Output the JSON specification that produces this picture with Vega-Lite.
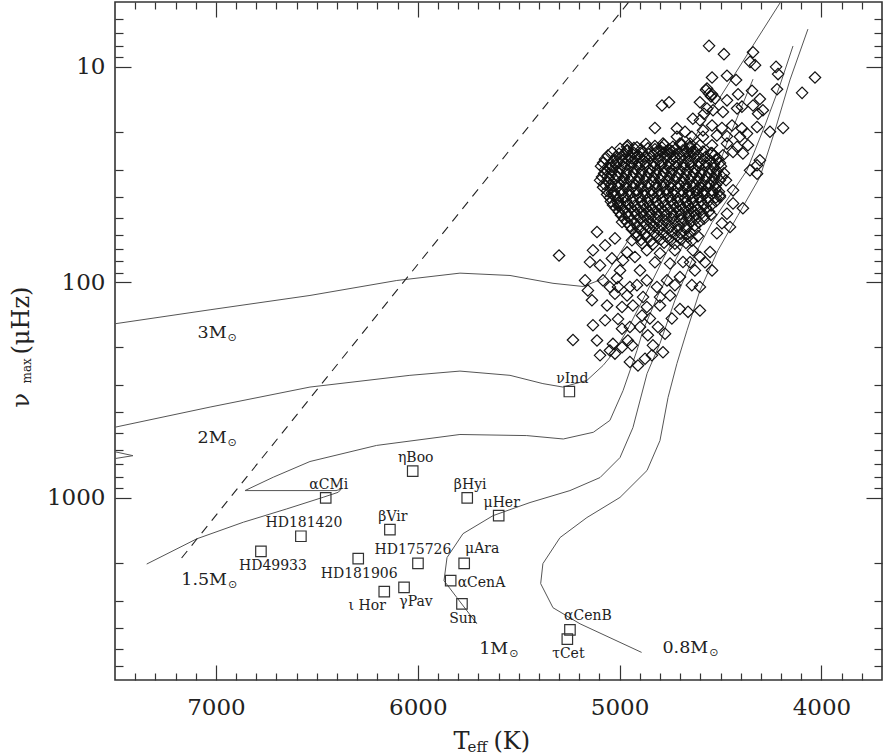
{
  "$schema": "https://vega.github.io/schema/vega-lite/v6.json",
  "width": 767,
  "height": 678,
  "autosize": {"type": "none"},
  "padding": {"left": 115, "top": 2, "right": 2, "bottom": 74},
  "background": "white",
  "config": {
    "view": {"stroke": "#333", "strokeWidth": 1.6},
    "font": "DejaVu Serif",
    "axis": {"grid": false, "domain": false, "tickColor": "#333", "tickWidth": 1.2, "labelFont": "DejaVu Serif", "labelColor": "#222", "titleFont": "DejaVu Serif", "titleColor": "#222", "titleFontWeight": "normal"}
  },
  "datasets": {
    "tracks": [
      {"track":"3M","teff":7599,"numax":162},{"track":"3M","teff":7500,"numax":155.6},{"track":"3M","teff":7029,"numax":134},{"track":"3M","teff":6534,"numax":115},{"track":"3M","teff":6104,"numax":98},{"track":"3M","teff":5791,"numax":90.6},{"track":"3M","teff":5543,"numax":92.9},{"track":"3M","teff":5330,"numax":101},{"track":"3M","teff":5181,"numax":104.5},{"track":"3M","teff":5082,"numax":96.2},{"track":"3M","teff":4973,"numax":67.3},{"track":"3M","teff":4850,"numax":43.9},{"track":"3M","teff":4701,"numax":27.1},{"track":"3M","teff":4528,"numax":15.1},{"track":"3M","teff":4354,"numax":8.37},{"track":"3M","teff":4181,"numax":4.65},
      {"track":"2Mh","teff":7599,"numax":693},{"track":"2Mh","teff":7500,"numax":657},{"track":"2Mh","teff":7411,"numax":637},{"track":"2Mh","teff":7500,"numax":611},{"track":"2Mh","teff":7599,"numax":585},
      {"track":"2M","teff":7599,"numax":498},{"track":"2M","teff":7500,"numax":470},{"track":"2M","teff":7029,"numax":379},{"track":"2M","teff":6534,"numax":306},{"track":"2M","teff":6039,"numax":270},{"track":"2M","teff":5791,"numax":258},{"track":"2M","teff":5543,"numax":270},{"track":"2M","teff":5380,"numax":295},{"track":"2M","teff":5281,"numax":306},{"track":"2M","teff":5162,"numax":285},{"track":"2M","teff":5082,"numax":243},{"track":"2M","teff":5033,"numax":214},{"track":"2M","teff":4963,"numax":167},{"track":"2M","teff":4874,"numax":115},{"track":"2M","teff":4775,"numax":74.8},{"track":"2M","teff":4651,"numax":46.3},{"track":"2M","teff":4552,"numax":31.8},
      {"track":"1.5M","teff":7343,"numax":2028},{"track":"1.5M","teff":7095,"numax":1549},{"track":"1.5M","teff":6864,"numax":1297},{"track":"1.5M","teff":6649,"numax":1125},{"track":"1.5M","teff":6468,"numax":993},{"track":"1.5M","teff":6394,"numax":942},{"track":"1.5M","teff":6380,"numax":912},{"track":"1.5M","teff":6405,"numax":925},{"track":"1.5M","teff":6856,"numax":925},{"track":"1.5M","teff":6716,"numax":802},{"track":"1.5M","teff":6534,"numax":678},{"track":"1.5M","teff":6204,"numax":571},{"track":"1.5M","teff":5791,"numax":508},{"track":"1.5M","teff":5460,"numax":514},{"track":"1.5M","teff":5279,"numax":533},{"track":"1.5M","teff":5130,"numax":496},{"track":"1.5M","teff":5048,"numax":437},{"track":"1.5M","teff":4983,"numax":318},{"track":"1.5M","teff":4914,"numax":207},{"track":"1.5M","teff":4884,"numax":167},{"track":"1.5M","teff":4810,"numax":115},{"track":"1.5M","teff":4711,"numax":74.8},{"track":"1.5M","teff":4612,"numax":48.9},{"track":"1.5M","teff":4537,"numax":33.6},{"track":"1.5M","teff":4453,"numax":20.7},{"track":"1.5M","teff":4339,"numax":11.4},
      {"track":"1M","teff":5707,"numax":3840},{"track":"1M","teff":5806,"numax":2904},{"track":"1M","teff":5870,"numax":2422},{"track":"1M","teff":5855,"numax":1892},{"track":"1M","teff":5776,"numax":1466},{"track":"1M","teff":5627,"numax":1209},{"track":"1M","teff":5444,"numax":1051},{"track":"1M","teff":5246,"numax":925},{"track":"1M","teff":5097,"numax":805},{"track":"1M","teff":4998,"numax":650},{"track":"1M","teff":4934,"numax":472},{"track":"1M","teff":4864,"numax":265},{"track":"1M","teff":4800,"numax":192},{"track":"1M","teff":4726,"numax":121},{"track":"1M","teff":4642,"numax":79},{"track":"1M","teff":4542,"numax":52.7},{"track":"1M","teff":4453,"numax":39.5},{"track":"1M","teff":4369,"numax":30.2},{"track":"1M","teff":4280,"numax":18.7},{"track":"1M","teff":4206,"numax":12.2},{"track":"1M","teff":4141,"numax":8.0},
      {"track":"0.8M","teff":4891,"numax":5212},{"track":"0.8M","teff":5196,"numax":3840},{"track":"0.8M","teff":5330,"numax":3234},{"track":"0.8M","teff":5391,"numax":2500},{"track":"0.8M","teff":5380,"numax":2019},{"track":"0.8M","teff":5295,"numax":1528},{"track":"0.8M","teff":5162,"numax":1234},{"track":"0.8M","teff":4998,"numax":995},{"track":"0.8M","teff":4864,"numax":746},{"track":"0.8M","teff":4800,"numax":542},{"track":"0.8M","teff":4760,"numax":342},{"track":"0.8M","teff":4716,"numax":238},{"track":"0.8M","teff":4666,"numax":167},{"track":"0.8M","teff":4602,"numax":109},{"track":"0.8M","teff":4513,"numax":71.1},{"track":"0.8M","teff":4414,"numax":48.9},{"track":"0.8M","teff":4305,"numax":32.5},{"track":"0.8M","teff":4230,"numax":19.7},{"track":"0.8M","teff":4156,"numax":11.5},{"track":"0.8M","teff":4067,"numax":6.68}
    ],
    "stars": [
      {"name":"αCMi","teff":6456,"numax":1000,"pos":"above"},
      {"name":"ηBoo","teff":6025,"numax":752,"pos":"above"},
      {"name":"βHyi","teff":5755,"numax":1000,"pos":"above"},
      {"name":"μHer","teff":5599,"numax":1208,"pos":"above"},
      {"name":"HD181420","teff":6579,"numax":1507,"pos":"above"},
      {"name":"βVir","teff":6138,"numax":1403,"pos":"above"},
      {"name":"HD49933","teff":6777,"numax":1770,"pos":"belowright"},
      {"name":"HD181906","teff":6295,"numax":1914,"pos":"below"},
      {"name":"HD175726","teff":5999,"numax":2014,"pos":"aboveleft"},
      {"name":"μAra","teff":5770,"numax":2014,"pos":"aboveright"},
      {"name":"αCenA","teff":5837,"numax":2422,"pos":"right"},
      {"name":"ι Hor","teff":6166,"numax":2722,"pos":"belowleft"},
      {"name":"γPav","teff":6068,"numax":2600,"pos":"belowright"},
      {"name":"Sun","teff":5781,"numax":3104,"pos":"below"},
      {"name":"αCenB","teff":5246,"numax":4100,"pos":"aboveright"},
      {"name":"τCet","teff":5259,"numax":4520,"pos":"below"},
      {"name":"νInd","teff":5249,"numax":321,"pos":"above"}
    ],
    "masses": [
      {"label":"3M","teff":6947,"numax":181.5},
      {"label":"2M","teff":6947,"numax":557},
      {"label":"1.5M","teff":6945,"numax":2529},
      {"label":"1M","teff":5552,"numax":5309},
      {"label":"0.8M","teff":4561,"numax":5273}
    ],
    "giants": [
      {"teff":4557,"numax":7.99},{"teff":4483,"numax":8.73},{"teff":4339,"numax":8.55},{"teff":4354,"numax":9.48},{"teff":4329,"numax":9.82},{"teff":4225,"numax":10.0},{"teff":4215,"numax":10.8},{"teff":4032,"numax":11.2},{"teff":4096,"numax":13.2},{"teff":4220,"numax":12.7},
      {"teff":4542,"numax":11.2},{"teff":4468,"numax":11.0},{"teff":4423,"numax":11.5},{"teff":4413,"numax":13.4},{"teff":4344,"numax":12.9},{"teff":4305,"numax":14.1},{"teff":4567,"numax":12.6},{"teff":4547,"numax":13.7},{"teff":4527,"numax":14.0},{"teff":4557,"numax":13.3},
      {"teff":4468,"numax":14.3},{"teff":4394,"numax":15.3},{"teff":4339,"numax":15.1},{"teff":4290,"numax":15.9},{"teff":4314,"numax":16.5},{"teff":4418,"numax":15.6},{"teff":4602,"numax":14.6},{"teff":4567,"numax":15.6},{"teff":4488,"numax":16.2},{"teff":4790,"numax":15.1},
      {"teff":4755,"numax":14.6},{"teff":4637,"numax":17.4},{"teff":4602,"numax":17.7},{"teff":4582,"numax":16.5},{"teff":4537,"numax":15.9},{"teff":4825,"numax":19.2},{"teff":4716,"numax":19.3},{"teff":4676,"numax":20.0},{"teff":4587,"numax":19.7},{"teff":4542,"numax":18.7},
      {"teff":4493,"numax":19.2},{"teff":4443,"numax":18.7},{"teff":4394,"numax":19.3},{"teff":4369,"numax":20.4},{"teff":4319,"numax":19.0},{"teff":4255,"numax":20.0},{"teff":4190,"numax":19.2},{"teff":4716,"numax":21.1},{"teff":4642,"numax":21.1},{"teff":4587,"numax":21.1},
      {"teff":4518,"numax":20.8},{"teff":4468,"numax":21.0},{"teff":4404,"numax":21.1},{"teff":4785,"numax":22.7},{"teff":4701,"numax":22.7},{"teff":4651,"numax":22.7},{"teff":4602,"numax":23.1},{"teff":4542,"numax":23.1},{"teff":4468,"numax":22.7},{"teff":4418,"numax":23.5},
      {"teff":4364,"numax":23.1},{"teff":4963,"numax":23.5},{"teff":4988,"numax":27.1},{"teff":4939,"numax":26.6},{"teff":4899,"numax":26.2},{"teff":4800,"numax":24.4},{"teff":4750,"numax":25.2},{"teff":4642,"numax":24.8},{"teff":4542,"numax":25.2},{"teff":4488,"numax":25.7},
      {"teff":4438,"numax":24.8},{"teff":4389,"numax":25.2},{"teff":4305,"numax":27.1},{"teff":4319,"numax":28.6},{"teff":4354,"numax":30.2},{"teff":4319,"numax":31.3},{"teff":5038,"numax":29.1},{"teff":5062,"numax":32.2},{"teff":5008,"numax":32.4},{"teff":5038,"numax":38.5},
      {"teff":4998,"numax":43.0},{"teff":4438,"numax":43.0},{"teff":4389,"numax":45.3},{"teff":4503,"numax":40.2},{"teff":4453,"numax":55.3},{"teff":4468,"numax":48.0},{"teff":4518,"numax":59.2},{"teff":4493,"numax":53.2},{"teff":5112,"numax":58.4},{"teff":5023,"numax":62.5},
      {"teff":5132,"numax":71.0},{"teff":5072,"numax":67.3},{"teff":5300,"numax":75.0},{"teff":5038,"numax":77.4},{"teff":5147,"numax":80.5},{"teff":5097,"numax":83.4},{"teff":5171,"numax":97.9},{"teff":5082,"numax":97.9},{"teff":5157,"numax":109},{"teff":5048,"numax":105},
      {"teff":4983,"numax":79.0},{"teff":4939,"numax":63.8},{"teff":4899,"numax":88.0},{"teff":4998,"numax":88.0},{"teff":4924,"numax":76.2},{"teff":4865,"numax":71.0},{"teff":4800,"numax":73.3},{"teff":4750,"numax":81.8},{"teff":4686,"numax":80.5},{"teff":4637,"numax":71.0},
      {"teff":4602,"numax":76.2},{"teff":4552,"numax":72.3},{"teff":4627,"numax":88.0},{"teff":4701,"numax":94.4},{"teff":4642,"numax":103},{"teff":4602,"numax":105},{"teff":4765,"numax":97.9},{"teff":4815,"numax":105},{"teff":4865,"numax":97.9},{"teff":4949,"numax":105},
      {"teff":5008,"numax":105},{"teff":5023,"numax":113},{"teff":4963,"numax":115},{"teff":4884,"numax":117},{"teff":4800,"numax":117},{"teff":4750,"numax":115},{"teff":5062,"numax":128},{"teff":4988,"numax":130},{"teff":4934,"numax":128},{"teff":4865,"numax":130},
      {"teff":4800,"numax":128},{"teff":4701,"numax":133},{"teff":4661,"numax":137},{"teff":4602,"numax":135},{"teff":5008,"numax":148},{"teff":4949,"numax":161},{"teff":4988,"numax":164},{"teff":4899,"numax":161},{"teff":4860,"numax":176},{"teff":4810,"numax":161},
      {"teff":4775,"numax":173},{"teff":5132,"numax":158},{"teff":5231,"numax":185},{"teff":5112,"numax":186},{"teff":5033,"numax":193},{"teff":5048,"numax":207},{"teff":4988,"numax":200},{"teff":4939,"numax":196},{"teff":4835,"numax":196},{"teff":4785,"numax":211},
      {"teff":4840,"numax":218},{"teff":4949,"numax":234},{"teff":4909,"numax":243},{"teff":5023,"numax":214},{"teff":5008,"numax":44.0},{"teff":4988,"numax":52.5},{"teff":4438,"numax":37.4},{"teff":4473,"numax":33.6},{"teff":4612,"numax":36.7},{"teff":4587,"numax":38.3},
      {"teff":4542,"numax":13.4},{"teff":4572,"numax":12.8},
      {"teff":4963,"numax":72.6},{"teff":4825,"numax":80.7},{"teff":4726,"numax":71.0},{"teff":4651,"numax":80.7},{"teff":4577,"numax":80.7},{"teff":5013,"numax":95.7},{"teff":4914,"numax":103},{"teff":4726,"numax":103},{"teff":4542,"numax":88.0},{"teff":4889,"numax":142.6},
      {"teff":4741,"numax":147},{"teff":5072,"numax":150},{"teff":4850,"numax":147},{"teff":4959,"numax":186},{"teff":5097,"numax":218},{"teff":4874,"numax":226},{"teff":5137,"numax":121},
      {"teff":4959,"numax":23.1},{"teff":4914,"numax":23.6},{"teff":4870,"numax":22.8},{"teff":4825,"numax":23.3},{"teff":4780,"numax":23.0},{"teff":4736,"numax":23.5},{"teff":4691,"numax":22.9},{"teff":4651,"numax":23.4},
      {"teff":5038,"numax":24.9},{"teff":5003,"numax":25.3},{"teff":4963,"numax":24.6},{"teff":4929,"numax":25.1},{"teff":4889,"numax":24.8},{"teff":4855,"numax":25.4},{"teff":4815,"numax":24.7},{"teff":4780,"numax":25.0},{"teff":4741,"numax":24.6},{"teff":4706,"numax":25.3},{"teff":4666,"numax":24.9},{"teff":4632,"numax":25.2},{"teff":4587,"numax":24.7},{"teff":4547,"numax":25.1},
      {"teff":5072,"numax":26.8},{"teff":5033,"numax":27.3},{"teff":4998,"numax":26.5},{"teff":4959,"numax":27.0},{"teff":4924,"numax":26.6},{"teff":4884,"numax":27.2},{"teff":4850,"numax":26.7},{"teff":4810,"numax":27.1},{"teff":4775,"numax":26.5},{"teff":4736,"numax":27.0},{"teff":4701,"numax":26.8},{"teff":4661,"numax":27.3},{"teff":4627,"numax":26.6},{"teff":4587,"numax":26.9},{"teff":4552,"numax":27.2},{"teff":4513,"numax":26.7},
      {"teff":5092,"numax":28.9},{"teff":5053,"numax":29.4},{"teff":5018,"numax":28.6},{"teff":4978,"numax":29.2},{"teff":4944,"numax":28.8},{"teff":4904,"numax":29.3},{"teff":4870,"numax":28.7},{"teff":4830,"numax":29.1},{"teff":4795,"numax":28.6},{"teff":4755,"numax":29.2},{"teff":4721,"numax":28.9},{"teff":4681,"numax":29.4},{"teff":4646,"numax":28.7},{"teff":4607,"numax":29.0},{"teff":4572,"numax":28.8},{"teff":4532,"numax":29.3},{"teff":4498,"numax":28.9},
      {"teff":5077,"numax":31.2},{"teff":5043,"numax":31.7},{"teff":5003,"numax":30.9},{"teff":4968,"numax":31.5},{"teff":4929,"numax":31.0},{"teff":4894,"numax":31.6},{"teff":4855,"numax":31.1},{"teff":4820,"numax":31.4},{"teff":4780,"numax":30.8},{"teff":4746,"numax":31.3},{"teff":4706,"numax":31.2},{"teff":4671,"numax":31.7},{"teff":4632,"numax":31.0},{"teff":4597,"numax":31.4},{"teff":4557,"numax":31.1},{"teff":4523,"numax":31.6},{"teff":4483,"numax":31.2},
      {"teff":5097,"numax":33.6},{"teff":5058,"numax":34.1},{"teff":5023,"numax":33.3},{"teff":4983,"numax":33.9},{"teff":4949,"numax":33.4},{"teff":4909,"numax":34.0},{"teff":4874,"numax":33.5},{"teff":4835,"numax":33.8},{"teff":4800,"numax":33.2},{"teff":4760,"numax":33.7},{"teff":4726,"numax":33.6},{"teff":4686,"numax":34.1},{"teff":4651,"numax":33.4},{"teff":4612,"numax":33.8},{"teff":4577,"numax":33.5},{"teff":4537,"numax":34.0},{"teff":4503,"numax":33.6},
      {"teff":5082,"numax":36.2},{"teff":5043,"numax":36.8},{"teff":5008,"numax":35.9},{"teff":4968,"numax":36.5},{"teff":4934,"numax":36.0},{"teff":4894,"numax":36.6},{"teff":4860,"numax":36.1},{"teff":4820,"numax":36.4},{"teff":4785,"numax":35.8},{"teff":4746,"numax":36.3},{"teff":4711,"numax":36.2},{"teff":4671,"numax":36.7},{"teff":4637,"numax":36.0},{"teff":4597,"numax":36.4},{"teff":4562,"numax":36.1},{"teff":4523,"numax":36.6},
      {"teff":5062,"numax":39.1},{"teff":5028,"numax":39.7},{"teff":4988,"numax":38.8},{"teff":4954,"numax":39.4},{"teff":4914,"numax":38.9},{"teff":4879,"numax":39.5},{"teff":4840,"numax":39.0},{"teff":4805,"numax":39.3},{"teff":4765,"numax":38.7},{"teff":4731,"numax":39.2},{"teff":4691,"numax":39.1},{"teff":4656,"numax":39.6},{"teff":4617,"numax":38.9},{"teff":4582,"numax":39.3},{"teff":4542,"numax":39.0},{"teff":4503,"numax":39.5},
      {"teff":5043,"numax":42.1},{"teff":5008,"numax":42.7},{"teff":4968,"numax":41.8},{"teff":4934,"numax":42.4},{"teff":4894,"numax":41.9},{"teff":4860,"numax":42.5},{"teff":4820,"numax":42.0},{"teff":4785,"numax":42.3},{"teff":4746,"numax":41.7},{"teff":4711,"numax":42.2},{"teff":4671,"numax":42.1},{"teff":4637,"numax":42.6},{"teff":4597,"numax":41.9},{"teff":4562,"numax":42.3},{"teff":4523,"numax":42.0},
      {"teff":5018,"numax":45.3},{"teff":4983,"numax":45.9},{"teff":4944,"numax":45.0},{"teff":4909,"numax":45.6},{"teff":4870,"numax":45.1},{"teff":4835,"numax":45.7},{"teff":4795,"numax":45.2},{"teff":4760,"numax":45.5},{"teff":4721,"numax":44.9},{"teff":4686,"numax":45.4},{"teff":4646,"numax":45.3},{"teff":4612,"numax":45.8},{"teff":4572,"numax":45.1},
      {"teff":4993,"numax":48.8},{"teff":4954,"numax":49.4},{"teff":4919,"numax":48.5},{"teff":4879,"numax":49.1},{"teff":4845,"numax":48.6},{"teff":4805,"numax":49.2},{"teff":4770,"numax":48.7},{"teff":4731,"numax":49.0},{"teff":4696,"numax":48.4},{"teff":4656,"numax":48.9},{"teff":4622,"numax":48.8},{"teff":4582,"numax":49.3},{"teff":4547,"numax":48.6},
      {"teff":4963,"numax":52.6},{"teff":4924,"numax":53.2},{"teff":4884,"numax":52.2},{"teff":4845,"numax":52.9},{"teff":4805,"numax":52.4},{"teff":4765,"numax":53.0},{"teff":4726,"numax":52.5},{"teff":4686,"numax":52.8},{"teff":4646,"numax":52.1},{"teff":4607,"numax":52.7},
      {"teff":4939,"numax":56.7},{"teff":4894,"numax":57.4},{"teff":4850,"numax":56.3},{"teff":4805,"numax":57.0},{"teff":4760,"numax":56.5},{"teff":4716,"numax":57.2},{"teff":4671,"numax":56.6},{"teff":4627,"numax":56.9},
      {"teff":4914,"numax":61.1},{"teff":4865,"numax":61.8},{"teff":4815,"numax":60.7},{"teff":4765,"numax":61.5},{"teff":4716,"numax":60.9},{"teff":4661,"numax":61.6},{"teff":4612,"numax":61.0},
      {"teff":4889,"numax":65.9},{"teff":4835,"numax":66.6},{"teff":4780,"numax":65.4},{"teff":4726,"numax":66.2},{"teff":4671,"numax":65.7},
      {"teff":4998,"numax":24.0},{"teff":4963,"numax":24.3},{"teff":4929,"numax":23.8},{"teff":4894,"numax":24.2},{"teff":4860,"numax":23.9},{"teff":4825,"numax":24.1},{"teff":4790,"numax":23.7},{"teff":4755,"numax":24.2},{"teff":4721,"numax":24.0},{"teff":4686,"numax":24.4},{"teff":4651,"numax":23.8},{"teff":4617,"numax":24.1},
      {"teff":5058,"numax":25.8},{"teff":5018,"numax":26.2},{"teff":4983,"numax":25.6},{"teff":4949,"numax":26.0},{"teff":4909,"numax":25.7},{"teff":4874,"numax":26.1},{"teff":4835,"numax":25.5},{"teff":4800,"numax":25.9},{"teff":4760,"numax":25.8},{"teff":4726,"numax":26.2},{"teff":4686,"numax":25.6},{"teff":4651,"numax":26.0},{"teff":4612,"numax":25.7},{"teff":4572,"numax":26.1},{"teff":4532,"numax":25.8},
      {"teff":5082,"numax":27.9},{"teff":5048,"numax":28.3},{"teff":5013,"numax":27.6},{"teff":4978,"numax":28.1},{"teff":4939,"numax":27.7},{"teff":4904,"numax":28.2},{"teff":4870,"numax":27.8},{"teff":4830,"numax":28.0},{"teff":4795,"numax":27.5},{"teff":4755,"numax":28.1},{"teff":4721,"numax":27.9},{"teff":4681,"numax":28.3},{"teff":4646,"numax":27.6},{"teff":4607,"numax":28.0},{"teff":4572,"numax":27.8},{"teff":4532,"numax":28.2},{"teff":4503,"numax":27.9},
      {"teff":5072,"numax":30.0},{"teff":5038,"numax":30.5},{"teff":4998,"numax":29.7},{"teff":4963,"numax":30.3},{"teff":4924,"numax":29.8},{"teff":4889,"numax":30.4},{"teff":4850,"numax":29.9},{"teff":4815,"numax":30.2},{"teff":4775,"numax":29.6},{"teff":4741,"numax":30.1},{"teff":4701,"numax":30.0},{"teff":4666,"numax":30.5},{"teff":4627,"numax":29.8},{"teff":4592,"numax":30.2},{"teff":4552,"numax":29.9},{"teff":4518,"numax":30.4},
      {"teff":5087,"numax":32.4},{"teff":5053,"numax":32.9},{"teff":5013,"numax":32.1},{"teff":4978,"numax":32.7},{"teff":4939,"numax":32.2},{"teff":4904,"numax":32.8},{"teff":4865,"numax":32.3},{"teff":4830,"numax":32.6},{"teff":4790,"numax":32.0},{"teff":4755,"numax":32.5},{"teff":4716,"numax":32.4},{"teff":4681,"numax":32.9},{"teff":4642,"numax":32.2},{"teff":4607,"numax":32.6},{"teff":4567,"numax":32.3},{"teff":4532,"numax":32.8},{"teff":4493,"numax":32.4},
      {"teff":5077,"numax":34.9},{"teff":5043,"numax":35.4},{"teff":5003,"numax":34.6},{"teff":4968,"numax":35.2},{"teff":4929,"numax":34.7},{"teff":4894,"numax":35.3},{"teff":4855,"numax":34.8},{"teff":4820,"numax":35.1},{"teff":4780,"numax":34.5},{"teff":4746,"numax":35.0},{"teff":4706,"numax":34.9},{"teff":4671,"numax":35.4},{"teff":4632,"numax":34.7},{"teff":4597,"numax":35.1},{"teff":4557,"numax":34.8},{"teff":4523,"numax":35.3},
      {"teff":5062,"numax":37.6},{"teff":5028,"numax":38.1},{"teff":4988,"numax":37.3},{"teff":4954,"numax":37.9},{"teff":4914,"numax":37.4},{"teff":4879,"numax":38.0},{"teff":4840,"numax":37.5},{"teff":4805,"numax":37.8},{"teff":4765,"numax":37.2},{"teff":4731,"numax":37.7},{"teff":4691,"numax":37.6},{"teff":4656,"numax":38.1},{"teff":4617,"numax":37.4},{"teff":4582,"numax":37.8},{"teff":4542,"numax":37.5},{"teff":4508,"numax":38.0},
      {"teff":5048,"numax":40.5},{"teff":5008,"numax":41.0},{"teff":4973,"numax":40.2},{"teff":4934,"numax":40.8},{"teff":4899,"numax":40.3},{"teff":4860,"numax":40.9},{"teff":4825,"numax":40.4},{"teff":4785,"numax":40.7},{"teff":4750,"numax":40.1},{"teff":4711,"numax":40.6},{"teff":4676,"numax":40.5},{"teff":4637,"numax":41.0},{"teff":4602,"numax":40.3},{"teff":4562,"numax":40.7},{"teff":4523,"numax":40.4},
      {"teff":5033,"numax":43.7},{"teff":4998,"numax":44.2},{"teff":4959,"numax":43.4},{"teff":4924,"numax":44.0},{"teff":4884,"numax":43.5},{"teff":4850,"numax":44.1},{"teff":4810,"numax":43.6},{"teff":4775,"numax":43.9},{"teff":4736,"numax":43.3},{"teff":4701,"numax":43.8},{"teff":4661,"numax":43.7},{"teff":4627,"numax":44.2},{"teff":4587,"numax":43.5},{"teff":4547,"numax":43.9},
      {"teff":5003,"numax":47.1},{"teff":4963,"numax":47.7},{"teff":4929,"numax":46.8},{"teff":4889,"numax":47.4},{"teff":4855,"numax":46.9},{"teff":4815,"numax":47.5},{"teff":4780,"numax":47.0},{"teff":4741,"numax":47.3},{"teff":4706,"numax":46.7},{"teff":4666,"numax":47.2},{"teff":4632,"numax":47.1},{"teff":4592,"numax":47.6},{"teff":4557,"numax":46.9},
      {"teff":4978,"numax":50.7},{"teff":4939,"numax":51.3},{"teff":4899,"numax":50.4},{"teff":4860,"numax":51.0},{"teff":4820,"numax":50.5},{"teff":4780,"numax":51.1},{"teff":4741,"numax":50.6},{"teff":4701,"numax":50.9},{"teff":4661,"numax":50.3},{"teff":4622,"numax":50.8},{"teff":4582,"numax":50.7},
      {"teff":4949,"numax":54.7},{"teff":4909,"numax":55.3},{"teff":4870,"numax":54.3},{"teff":4830,"numax":55.0},{"teff":4790,"numax":54.5},{"teff":4746,"numax":55.1},{"teff":4706,"numax":54.6},{"teff":4666,"numax":54.9},{"teff":4627,"numax":54.4},
      {"teff":4919,"numax":58.9},{"teff":4874,"numax":59.6},{"teff":4830,"numax":58.5},{"teff":4785,"numax":59.2},{"teff":4741,"numax":58.7},{"teff":4696,"numax":59.4},{"teff":4651,"numax":58.8},
      {"teff":4894,"numax":63.5},{"teff":4845,"numax":64.2},{"teff":4795,"numax":63.1},{"teff":4746,"numax":63.9},{"teff":4696,"numax":63.3},{"teff":4642,"numax":64.0}
    ]
  },
  "resolve": {"axis": {"x": "independent", "y": "independent"}},
  "layer": [
    {
      "data": {"name": "tracks"},
      "mark": {"type": "line", "clip": true, "color": "#555", "strokeWidth": 1},
      "encoding": {
        "x": {"field": "teff", "type": "quantitative", "scale": {"domain": [3700, 7500], "reverse": true, "nice": false, "zero": false},
          "axis": {"orient": "bottom", "values": [4000, 5000, 6000, 7000], "format": "d", "ticks": false, "tickSize": 0, "labelFontSize": 23, "labelPadding": 16, "title": "T", "titleFontSize": 24, "titleX": 338, "titleY": 68, "titleAlign": "left", "titleBaseline": "alphabetic"}},
        "y": {"field": "numax", "type": "quantitative", "scale": {"type": "log", "domain": [5, 7000], "reverse": true, "nice": false},
          "axis": {"orient": "left", "values": [10, 100, 1000], "format": "d", "ticks": false, "tickSize": 0, "labelFontSize": 23, "labelPadding": 10, "title": "ν", "titleFontSize": 24, "titleAngle": 270, "titleX": -87, "titleY": 405, "titleAlign": "left", "titleBaseline": "alphabetic"}},
        "detail": {"field": "track", "type": "nominal"},
        "order": {"value": null}
      }
    },
    {
      "data": {"values": [{"teff": 7170, "numax": 1901}, {"teff": 4899, "numax": 4.31}]},
      "mark": {"type": "line", "clip": true, "color": "#222", "strokeWidth": 1.1, "strokeDash": [9, 7]},
      "encoding": {
        "x": {"field": "teff", "type": "quantitative",
          "axis": {"orient": "bottom", "values": [3800,3900,4100,4200,4300,4400,4500,4600,4700,4800,4900,5100,5200,5300,5400,5500,5600,5700,5800,5900,6100,6200,6300,6400,6500,6600,6700,6800,6900,7100,7200,7300,7400], "tickSize": -7, "labels": false, "title": "(K)", "titleFontSize": 24, "titleX": 378, "titleY": 68, "titleAlign": "left", "titleBaseline": "alphabetic"}},
        "y": {"field": "numax", "type": "quantitative",
          "axis": {"orient": "left", "values": [6,7,8,9,20,30,40,50,60,70,80,90,200,300,400,500,600,700,800,900,2000,3000,4000,5000,6000], "tickSize": -8, "labels": false, "title": "(μHz)", "titleFontSize": 24, "titleAngle": 270, "titleX": -87, "titleY": 352, "titleAlign": "left", "titleBaseline": "alphabetic"}}
      }
    },
    {
      "data": {"name": "giants"},
      "mark": {"type": "point", "shape": "diamond", "size": 130, "filled": false, "stroke": "#111", "strokeWidth": 1.2, "opacity": 1},
      "encoding": {
        "x": {"field": "teff", "type": "quantitative",
          "axis": {"orient": "top", "values": [4000, 5000, 6000, 7000], "tickSize": -15, "labels": false, "title": null}},
        "y": {"field": "numax", "type": "quantitative",
          "axis": {"orient": "right", "values": [10, 100, 1000], "tickSize": -16, "labels": false, "title": null}}
      }
    },
    {
      "data": {"name": "stars"},
      "mark": {"type": "point", "shape": "square", "size": 110, "filled": false, "stroke": "#333", "strokeWidth": 1.2, "opacity": 1},
      "encoding": {
        "x": {"field": "teff", "type": "quantitative",
          "axis": {"orient": "top", "values": [3800,3900,4100,4200,4300,4400,4500,4600,4700,4800,4900,5100,5200,5300,5400,5500,5600,5700,5800,5900,6100,6200,6300,6400,6500,6600,6700,6800,6900,7100,7200,7300,7400], "tickSize": -7, "labels": false, "title": null}},
        "y": {"field": "numax", "type": "quantitative",
          "axis": {"orient": "right", "values": [6,7,8,9,20,30,40,50,60,70,80,90,200,300,400,500,600,700,800,900,2000,3000,4000,5000,6000], "tickSize": -8, "labels": false, "title": null}}
      }
    },
    {
      "data": {"name": "masses"},
      "mark": {"type": "text", "font": "DejaVu Serif", "fontSize": 17.5, "color": "#222", "align": "right", "baseline": "alphabetic"},
      "encoding": {
        "x": {"field": "teff", "type": "quantitative",
          "axis": {"orient": "bottom", "values": [4000, 5000, 6000, 7000], "tickSize": -15, "labels": false, "title": "eff", "titleFontSize": 15, "titleX": 352, "titleY": 71, "titleAlign": "left", "titleBaseline": "alphabetic"}},
        "y": {"field": "numax", "type": "quantitative",
          "axis": {"orient": "left", "values": [10, 100, 1000], "tickSize": -16, "labels": false, "title": "max", "titleFontSize": 12, "titleAngle": 270, "titleX": -85, "titleY": 381, "titleAlign": "left", "titleBaseline": "alphabetic"}},
        "text": {"field": "label"}
      }
    },
    {
      "data": {"name": "masses"},
      "mark": {"type": "text", "font": "DejaVu Sans", "fontSize": 11, "color": "#222", "align": "left", "baseline": "middle", "dx": 1},
      "encoding": {
        "x": {"field": "teff", "type": "quantitative", "axis": null},
        "y": {"field": "numax", "type": "quantitative", "axis": null},
        "text": {"value": "⊙"}
      }
    },
    {
      "data": {"name": "stars"},
      "transform": [{"filter": "datum.pos === 'above'"}],
      "mark": {"type": "text", "font": "DejaVu Serif", "fontSize": 14, "color": "#222", "align": "center", "baseline": "alphabetic", "dx": 3, "dy": -9},
      "encoding": {"x": {"field": "teff", "type": "quantitative", "axis": null}, "y": {"field": "numax", "type": "quantitative", "axis": null}, "text": {"field": "name"}}
    },
    {
      "data": {"name": "stars"},
      "transform": [{"filter": "datum.pos === 'aboveleft'"}],
      "mark": {"type": "text", "font": "DejaVu Serif", "fontSize": 14, "color": "#222", "align": "center", "baseline": "alphabetic", "dx": -5, "dy": -9},
      "encoding": {"x": {"field": "teff", "type": "quantitative", "axis": null}, "y": {"field": "numax", "type": "quantitative", "axis": null}, "text": {"field": "name"}}
    },
    {
      "data": {"name": "stars"},
      "transform": [{"filter": "datum.pos === 'aboveright'"}],
      "mark": {"type": "text", "font": "DejaVu Serif", "fontSize": 14, "color": "#222", "align": "center", "baseline": "alphabetic", "dx": 18, "dy": -10},
      "encoding": {"x": {"field": "teff", "type": "quantitative", "axis": null}, "y": {"field": "numax", "type": "quantitative", "axis": null}, "text": {"field": "name"}}
    },
    {
      "data": {"name": "stars"},
      "transform": [{"filter": "datum.pos === 'below'"}],
      "mark": {"type": "text", "font": "DejaVu Serif", "fontSize": 14, "color": "#222", "align": "center", "baseline": "alphabetic", "dx": 1, "dy": 19},
      "encoding": {"x": {"field": "teff", "type": "quantitative", "axis": null}, "y": {"field": "numax", "type": "quantitative", "axis": null}, "text": {"field": "name"}}
    },
    {
      "data": {"name": "stars"},
      "transform": [{"filter": "datum.pos === 'belowleft'"}],
      "mark": {"type": "text", "font": "DejaVu Serif", "fontSize": 14, "color": "#222", "align": "center", "baseline": "alphabetic", "dx": -17, "dy": 18},
      "encoding": {"x": {"field": "teff", "type": "quantitative", "axis": null}, "y": {"field": "numax", "type": "quantitative", "axis": null}, "text": {"field": "name"}}
    },
    {
      "data": {"name": "stars"},
      "transform": [{"filter": "datum.pos === 'belowright'"}],
      "mark": {"type": "text", "font": "DejaVu Serif", "fontSize": 14, "color": "#222", "align": "center", "baseline": "alphabetic", "dx": 12, "dy": 19},
      "encoding": {"x": {"field": "teff", "type": "quantitative", "axis": null}, "y": {"field": "numax", "type": "quantitative", "axis": null}, "text": {"field": "name"}}
    },
    {
      "data": {"name": "stars"},
      "transform": [{"filter": "datum.pos === 'right'"}],
      "mark": {"type": "text", "font": "DejaVu Serif", "fontSize": 14, "color": "#222", "align": "left", "baseline": "alphabetic", "dx": 7, "dy": 6},
      "encoding": {"x": {"field": "teff", "type": "quantitative", "axis": null}, "y": {"field": "numax", "type": "quantitative", "axis": null}, "text": {"field": "name"}}
    }
  ]
}
